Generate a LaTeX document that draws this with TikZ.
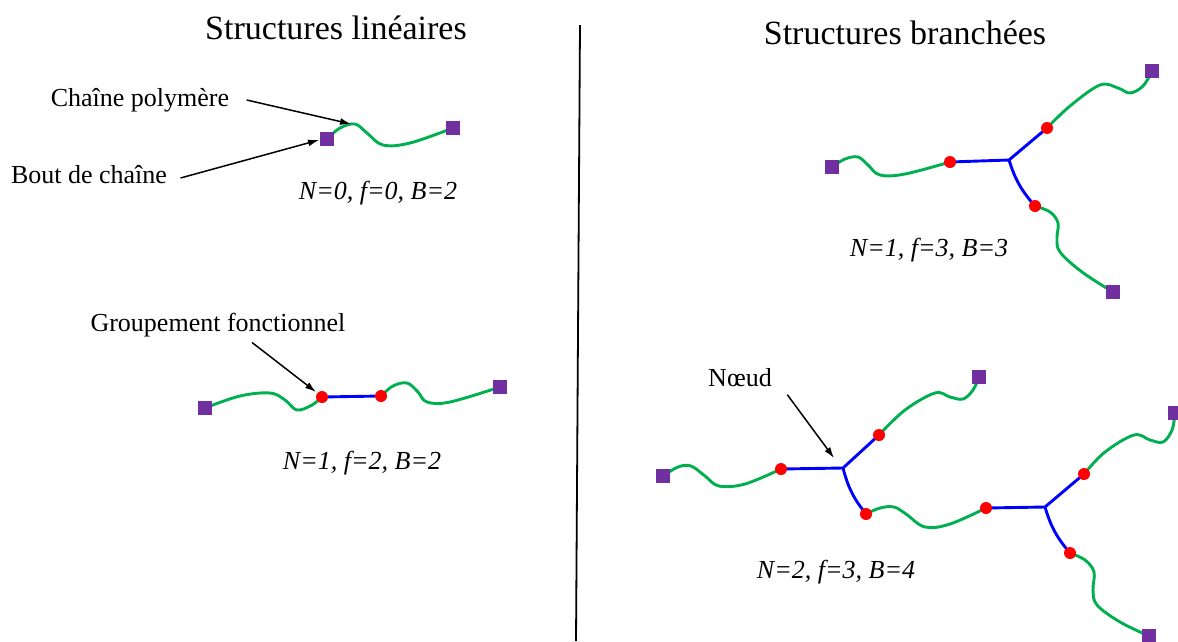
\documentclass[tikz,border=0pt]{standalone}
\usepackage{fontspec}
\setmainfont{Liberation Serif}
\usepackage{xcolor}
\usetikzlibrary{shapes,arrows.meta,backgrounds}
\definecolor{chaingreen}{HTML}{00B050}
\definecolor{endpurple}{HTML}{7030A0}
\tikzstyle{chain} = [draw=chaingreen, line width=2.9pt]
\tikzstyle{link} = [draw=blue, line width=2.9pt]
\tikzstyle{chainend} = [fill=endpurple, minimum size=14pt, inner sep=0pt]
\tikzstyle{fgroup} = [circle, fill=red, minimum size=12pt, inner sep=0pt]
\tikzstyle{pointer} = [draw, -{Latex[length=11pt,width=7pt]}, line width=1.5pt]
\tikzstyle{lbl} = [font=\fontsize{26}{30}\selectfont]
\tikzstyle{title} = [font=\fontsize{34}{40}\selectfont]

\begin{document}
\begin{tikzpicture}[x=1pt,y=-1pt]
\useasboundingbox (0,0) rectangle (1178,641);
%
\node[title] at (336,28) {Structures linéaires};
\node[title] at (905,33) {Structures branchées};
\draw[line width=1.8pt] (580,25) -- (576,641);
%
% linear, no group
\node[chainend] (e1) at (327,139) {};
\node[chainend] (e2) at (453,128) {};
\begin{scope}[on background layer]
\draw[chain] plot[smooth, tension=0.6] coordinates {(e1.center) (340,128) (355,124) (367,133) (383,145) (410,143) (e2.center)};
\end{scope}
\node[lbl] (cp) at (140,100) {Chaîne polymère};
\node[lbl] (bc) at (89,175) {Bout de chaîne};
\coordinate (t1) at (351,124);
\coordinate (t2) at (319,140);
\path[pointer] ([xshift=14pt]cp.east) -- (t1);
\path[pointer] ([xshift=10pt,yshift=-3pt]bc.east) -- (t2);
\node[lbl] at (378,193) {\textit{N=0, f=0, B=2}};
%
% linear, two groups
\node[chainend] (e3) at (205,408) {};
\node[fgroup] (g1) at (322,397) {};
\node[fgroup] (g2) at (381,396) {};
\node[chainend] (e4) at (500,387) {};
\begin{scope}[on background layer]
\draw[chain] plot[smooth, tension=0.6] coordinates {(e3.center) (240,396) (270,393) (285,400) (297,410) (312,405) (g1.center)};
\draw[link] (g1) -- (g2);
\draw[chain] plot[smooth, tension=0.6] coordinates {(g2.center) (393,386) (407,383) (418,392) (427,402) (450,402) (e4.center)};
\end{scope}
\node[lbl] (gf) at (218,325) {Groupement fonctionnel};
\coordinate (t3) at (316,392);
\path[pointer] ([xshift=34pt,yshift=-2pt]gf.south) -- (t3);
\node[lbl] at (362,463) {\textit{N=1, f=2, B=2}};
%
% branched, one node
\node[chainend] (e5) at (832,167) {};
\node[fgroup] (g3) at (950,162) {};
\coordinate (j1) at (1009,160);
\node[fgroup] (g4) at (1047,128) {};
\node[chainend] (e6) at (1152,71) {};
\node[fgroup] (g5) at (1035,206) {};
\node[chainend] (e7) at (1113,292) {};
\begin{scope}[on background layer]
\draw[chain] plot[smooth, tension=0.6] coordinates {(e5.center) (845,159) (858,157) (868,165) (880,175) (905,174) (g3.center)};
\draw[link] (g3.center) -- (j1) -- (g4.center);
\draw[link] (j1) to[bend right=12] (g5.center);
\draw[chain] plot[smooth, tension=0.6] coordinates {(g4.center) (1070,106) (1100,85) (1118,88) (1130,93) (1143,86) (e6.center)};
\draw[chain] plot[smooth, tension=0.6] coordinates {(g5.center) (1050,212) (1058,223) (1057,238) (1060,252) (1082,272) (e7.center)};
\end{scope}
\node[lbl] at (929,250) {\textit{N=1, f=3, B=3}};
%
% branched, two nodes
\node[chainend] (e8) at (663,476) {};
\node[fgroup] (g6) at (781,469) {};
\coordinate (j2) at (843,468);
\node[fgroup] (g7) at (879,435) {};
\node[chainend] (e9) at (979,377) {};
\node[fgroup] (g8) at (866,514) {};
\node[fgroup] (g9) at (986,508) {};
\coordinate (j3) at (1045,507);
\node[fgroup] (g10) at (1084,474) {};
\node[chainend] (e10) at (1175,413) {};
\node[fgroup] (g11) at (1070,553) {};
\node[chainend] (e11) at (1149,636) {};
\begin{scope}[on background layer]
\draw[chain] plot[smooth, tension=0.6] coordinates {(e8.center) (678,467) (691,466) (705,476) (719,486) (745,484) (g6.center)};
\draw[link] (g6.center) -- (j2) -- (g7.center);
\draw[link] (j2) to[bend right=12] (g8.center);
\draw[chain] plot[smooth, tension=0.6] coordinates {(g7.center) (905,410) (935,393) (950,397) (963,399) (973,390) (e9.center)};
\draw[chain] plot[smooth, tension=0.6] coordinates {(g8.center) (880,508) (894,507) (906,514) (925,527) (950,524) (g9.center)};
\draw[link] (g9.center) -- (j3) -- (g10.center);
\draw[link] (j3) to[bend right=12] (g11.center);
\draw[chain] plot[smooth, tension=0.6] coordinates {(g10.center) (1105,452) (1134,435) (1150,440) (1163,442) (1172,430) (e10.center)};
\draw[chain] plot[smooth, tension=0.6] coordinates {(g11.center) (1085,560) (1094,572) (1093,590) (1097,605) (1120,622) (e11.center)};
\end{scope}
\node[lbl] (nd) at (740,378) {Nœud};
\coordinate (t4) at (834,458);
\path[pointer] ([xshift=12pt,yshift=-4pt]nd.south east) -- (t4);
\node[lbl] at (836,572) {\textit{N=2, f=3, B=4}};
\end{tikzpicture}
\end{document}
